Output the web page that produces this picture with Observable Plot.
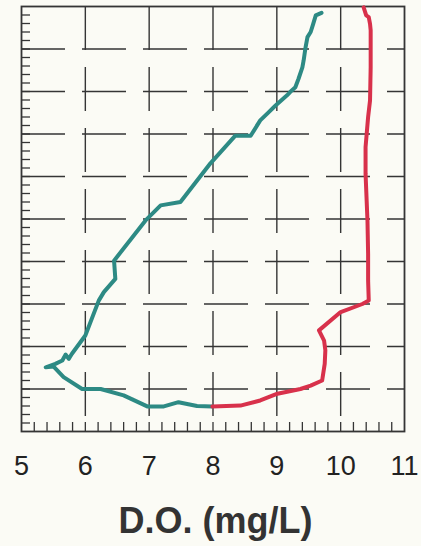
<!DOCTYPE html>
<html>
<head>
<meta charset="utf-8">
<script src="https://cdn.jsdelivr.net/npm/d3@7"></script>
<script src="https://cdn.jsdelivr.net/npm/@observablehq/plot@0.6"></script>
<style>
  html, body { margin: 0; padding: 0; background: #fbfbf5; }
  #chart svg { display: block; background: transparent; font-family: "Liberation Sans", Arial, sans-serif; }
</style>
</head>
<body>
<div id="chart"></div>
<script>
// Dissolved-oxygen profiles: D.O. (mg/L) against depth (0 = surface, 10 = bottom)
const xTickLabels = [5, 6, 7, 8, 9, 10, 11];
const doGrid = [6, 7, 8, 9, 10];
const depthGrid = [1, 2, 3, 4, 5, 6, 7, 8, 9];
const doMinor = d3.range(5.2, 10.9, 0.2);
const depthMinor = d3.range(0.2, 9.9, 0.2);

// First profile (teal)
const tealDO = [9.70, 9.61, 9.57, 9.53, 9.48, 9.45, 9.42, 9.40, 9.34, 9.29, 9.23, 9.16, 8.98, 8.87, 8.74, 8.59, 8.35, 7.96, 7.49, 7.18, 6.94, 6.45, 6.47, 6.29, 6.21, 6.00, 5.79, 5.74, 5.69, 5.64, 5.53, 5.38, 5.50, 5.66, 5.95, 6.24, 6.60, 6.97, 7.23, 7.46, 7.75, 7.99];
const tealDepth = [0.15, 0.21, 0.41, 0.60, 0.72, 0.96, 1.27, 1.43, 1.70, 1.90, 1.98, 2.09, 2.33, 2.49, 2.68, 3.04, 3.04, 3.69, 4.60, 4.68, 5.04, 5.98, 6.41, 6.72, 6.92, 7.74, 8.17, 8.29, 8.19, 8.33, 8.41, 8.49, 8.47, 8.72, 9.00, 9.00, 9.15, 9.41, 9.41, 9.31, 9.40, 9.41];

// Second profile (red)
const redDO = [7.99, 8.43, 8.74, 9.01, 9.37, 9.53, 9.71, 9.75, 9.76, 9.74, 9.66, 10.00, 10.34, 10.44, 10.43, 10.43, 10.42, 10.39, 10.39, 10.43, 10.46, 10.47, 10.47, 10.46, 10.44, 10.40, 10.36];
const redDepth = [9.41, 9.39, 9.27, 9.11, 9.00, 8.92, 8.80, 8.41, 8.09, 7.86, 7.62, 7.19, 7.00, 6.92, 6.45, 5.82, 5.04, 3.94, 3.31, 2.60, 2.21, 1.43, 0.56, 0.41, 0.25, 0.21, 0.02];

const teal = tealDO.map((v, i) => ({do: v, depth: tealDepth[i]}));
const red = redDO.map((v, i) => ({do: v, depth: redDepth[i]}));

const W = 421, H = 546;
const mt = 6, mb = 115, ml = 21, mr = 17;
const innerW = W - ml - mr, innerH = H - mt - mb;
const ink = "#353535";
const dash = "44,17";

const chart = Plot.plot({
  width: W,
  height: H,
  marginTop: mt,
  marginBottom: mb,
  marginLeft: ml,
  marginRight: mr,
  style: {background: "transparent", fontFamily: "'Liberation Sans', Arial, sans-serif"},
  x: {domain: [5, 11], axis: null},
  y: {domain: [0, 10], reverse: true, axis: null},
  marks: [
    Plot.ruleY(depthGrid, {y: d => d, stroke: ink, strokeWidth: 1.4, strokeDasharray: dash}),
    Plot.ruleX(doGrid, {x: d => d, stroke: ink, strokeWidth: 1.4, strokeDasharray: dash}),
    Plot.ruleX(doMinor, {x: d => d, insetTop: innerH - 9, stroke: ink, strokeWidth: 1.3}),
    Plot.ruleY(depthMinor, {y: d => d, insetRight: innerW - 9, stroke: ink, strokeWidth: 1.3}),
    Plot.frame({stroke: ink, strokeWidth: 1.8}),
    Plot.line(teal, {x: "do", y: "depth", stroke: "#2d8a84", strokeWidth: 4, strokeLinejoin: "round", strokeLinecap: "round"}),
    Plot.line(red, {x: "do", y: "depth", stroke: "#d8314b", strokeWidth: 4, strokeLinejoin: "round", strokeLinecap: "round"}),
    Plot.axisX(xTickLabels, {
      anchor: "bottom", tickSize: 0, tickPadding: 24, fontSize: 27,
      fill: "#222", label: null, tickFormat: d => String(d)
    }),
    Plot.text(["D.O. (mg/L)"], {
      frameAnchor: "bottom", lineAnchor: "top", dy: 76, dx: 2.5,
      fontSize: 36, fontWeight: "bold", fill: "#333"
    })
  ]
});

document.getElementById("chart").appendChild(chart);
</script>
</body>
</html>
